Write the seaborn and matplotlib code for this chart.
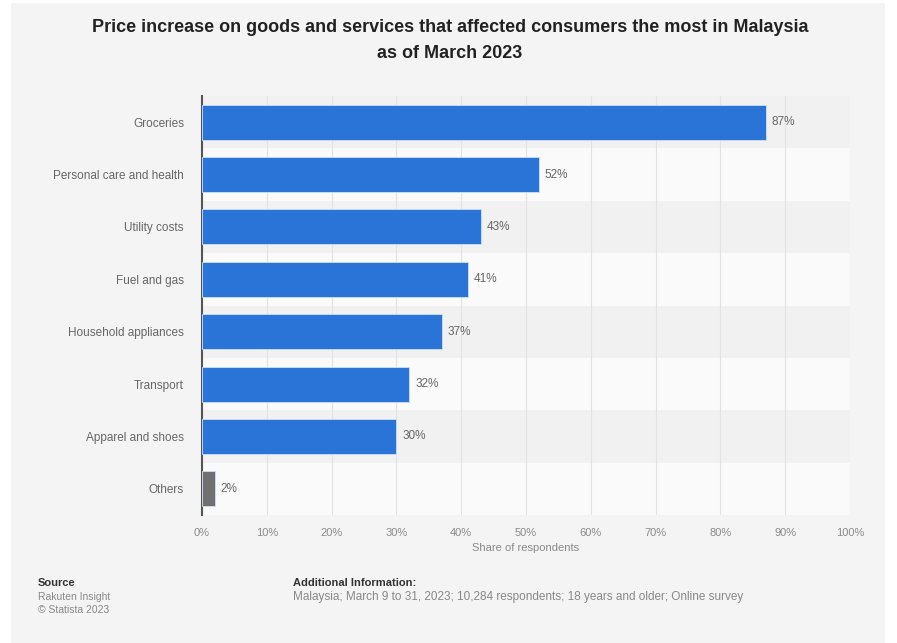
import matplotlib
matplotlib.use("Agg")
import matplotlib.pyplot as plt
from matplotlib.patches import Rectangle
import seaborn as sns
import pandas as pd

categories = ["Groceries", "Personal care and health", "Utility costs", "Fuel and gas",
              "Household appliances", "Transport", "Apparel and shoes", "Others"]
values = [87, 52, 43, 41, 37, 32, 30, 2]
x_ticks = [0, 10, 20, 30, 40, 50, 60, 70, 80, 90, 100]
x_ticklabels = ["0%", "10%", "20%", "30%", "40%", "50%", "60%", "70%", "80%", "90%", "100%"]

df = pd.DataFrame({"category": categories, "value": values})
colors = ["#2a74d8"] * 7 + ["#707070"]

sns.set_theme(style="white")
plt.rcParams['font.family'] = ['Liberation Sans', 'DejaVu Sans']

W, H = 897, 643
fig = plt.figure(figsize=(W / 100, H / 100), dpi=100, facecolor="white")
fig.patches.append(Rectangle((11 / W, 0), (885 - 11) / W, (H - 3) / H,
                             transform=fig.transFigure, facecolor="#f4f4f4",
                             edgecolor="none", zorder=-10))

ax = fig.add_axes([202 / W, 1 - 515 / H, (850 - 202) / W, (515 - 96) / H])
ax.set_facecolor("none")

# alternating row bands
for i in range(len(categories)):
    ax.axhspan(i - 0.5, i + 0.5, color="#f1f1f1" if i % 2 == 0 else "#fafafa",
               zorder=0, lw=0)

sns.barplot(data=df, x="value", y="category", hue="category", palette=colors,
            legend=False, width=0.67, ax=ax, zorder=3, saturation=1,
            edgecolor="#cfe0f5", linewidth=0.6)

ax.set_xlim(0, 100)
ax.set_ylim(len(categories) - 0.5, -0.5)
ax.set_xticks(x_ticks)
ax.set_xticklabels(x_ticklabels)
ax.xaxis.grid(True, color="#e2e2e2", lw=0.8, zorder=1)
ax.set_axisbelow(True)
for s in ["top", "right", "bottom"]:
    ax.spines[s].set_visible(False)
ax.spines["left"].set_color("#555555")
ax.spines["left"].set_linewidth(1.5)
ax.tick_params(axis="both", length=0, labelsize=8.5, labelcolor="#666666")
ax.tick_params(axis="x", pad=9, labelcolor="#8a8a8a", labelsize=8)
ax.tick_params(axis="y", pad=13)
ax.set_ylabel("")
ax.set_xlabel("Share of respondents", fontsize=8, color="#888888", labelpad=4)

for i, v in enumerate(values):
    ax.text(v + 0.9, i, f"{v}%", va="center", ha="left", fontsize=8.5,
            color="#666666", zorder=4)

fig.text(450 / W, 1 - 27 / H, "Price increase on goods and services that affected consumers the most in Malaysia",
         ha="center", va="center", fontsize=13, fontweight="bold", color="#222222")
fig.text(450 / W, 1 - 53 / H, "as of March 2023",
         ha="center", va="center", fontsize=13, fontweight="bold", color="#222222")

fig.text(38 / W, 1 - 583 / H, "Source", ha="left", va="center", fontsize=8,
         fontweight="bold", color="#333333")
fig.text(38 / W, 1 - 597 / H, "Rakuten Insight", ha="left", va="center", fontsize=7.5,
         color="#888888")
fig.text(38 / W, 1 - 610 / H, "© Statista 2023", ha="left", va="center", fontsize=7.5,
         color="#888888")
fig.text(293 / W, 1 - 583 / H, "Additional Information:", ha="left", va="center",
         fontsize=8, fontweight="bold", color="#333333")
fig.text(293 / W, 1 - 597 / H,
         "Malaysia; March 9 to 31, 2023; 10,284 respondents; 18 years and older; Online survey",
         ha="left", va="center", fontsize=8.5, color="#888888")

fig.savefig("out.png", dpi=100, facecolor=fig.get_facecolor())
